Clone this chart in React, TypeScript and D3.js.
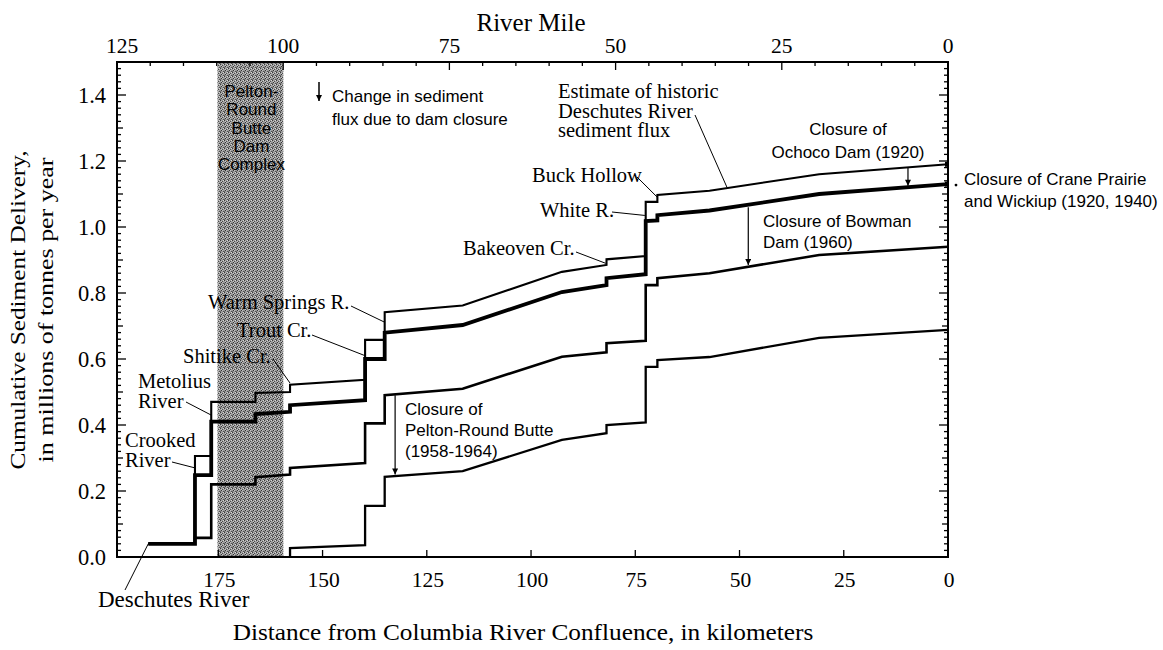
import React from 'react';
import * as d3 from 'd3';

const W = 1163;
const H = 650;
const M = { left: 117, right: 948, top: 62, bottom: 557 };

const kmDomain: [number, number] = [199.3, 0];
const mileDomain: [number, number] = [125, 0];
const yDomain: [number, number] = [0, 1.5];

const kmTicks = [175, 150, 125, 100, 75, 50, 25, 0];
const mileTicks = [125, 100, 75, 50, 25, 0];
const yTicks = [0, 0.2, 0.4, 0.6, 0.8, 1.0, 1.2, 1.4];

const damBandKm: [number, number] = [175.2, 159.4];

// [km from confluence, cumulative sediment (Mt/yr)]
const historic: [number, number][] = [
  [191.8, 0.04], [180.6, 0.04], [180.6, 0.306], [176.7, 0.306], [176.7, 0.47],
  [166.1, 0.47], [166.1, 0.497], [157.8, 0.5], [157.8, 0.522], [139.8, 0.537],
  [139.8, 0.658], [135.1, 0.658], [135.1, 0.742], [116.4, 0.762], [92.6, 0.864],
  [81.9, 0.885], [81.9, 0.902], [72.5, 0.912], [72.5, 1.076], [69.7, 1.076],
  [69.7, 1.097], [57.2, 1.11], [30.9, 1.16], [0, 1.19],
];
const upperDams: [number, number][] = [
  [191.8, 0.04], [180.6, 0.04], [180.6, 0.248], [176.7, 0.248], [176.7, 0.41],
  [166.1, 0.41], [166.1, 0.433], [157.8, 0.44], [157.8, 0.46], [139.8, 0.475],
  [139.8, 0.6], [135.1, 0.6], [135.1, 0.68], [116.4, 0.703], [92.6, 0.803],
  [81.9, 0.824], [81.9, 0.845], [72.5, 0.857], [72.5, 1.018], [69.7, 1.02],
  [69.7, 1.036], [57.2, 1.05], [30.9, 1.1], [0, 1.13],
];
const bowman: [number, number][] = [
  [191.8, 0.04], [180.6, 0.04], [180.6, 0.058], [176.7, 0.058], [176.7, 0.22],
  [166.1, 0.22], [166.1, 0.242], [157.8, 0.25], [157.8, 0.27], [139.8, 0.285],
  [139.8, 0.405], [135.1, 0.405], [135.1, 0.49], [116.4, 0.51], [92.6, 0.607],
  [81.9, 0.62], [81.9, 0.648], [72.5, 0.655], [72.5, 0.824], [69.7, 0.824],
  [69.7, 0.845], [57.2, 0.86], [30.9, 0.915], [0, 0.94],
];
const pelton: [number, number][] = [
  [157.8, 0], [157.8, 0.027], [139.8, 0.036], [139.8, 0.155], [135.1, 0.155],
  [135.1, 0.243], [116.4, 0.26], [92.6, 0.355], [81.9, 0.375], [81.9, 0.4],
  [72.5, 0.408], [72.5, 0.576], [69.7, 0.576], [69.7, 0.597], [57.2, 0.606],
  [30.9, 0.664], [0, 0.688],
];

// Labels: text lines, start position (px), pointer start (px) and target (data)
const tributaryLabels = [
  { lines: ['Warm Springs R.'], x: 208, y: 309, size: 20.5, from: [351, 306], to: [135.2, 0.712] },
  { lines: ['Trout Cr.'], x: 237, y: 337, size: 20.5, from: [312, 335], to: [139.8, 0.61] },
  { lines: ['Shitike Cr.'], x: 183, y: 363, size: 20.5, from: [273, 359], to: [157.8, 0.527] },
  { lines: ['Metolius', 'River'], x: 138, y: 388, size: 20.5, from: [186, 402], to: [176.7, 0.43] },
  { lines: ['Crooked', 'River'], x: 125, y: 447, size: 20.5, from: [172, 462], to: [180.6, 0.27] },
  { lines: ['Deschutes River'], x: 98, y: 607, size: 23, from: [125, 590], to: [191.8, 0.04] },
  { lines: ['Bakeoven Cr.'], x: 463, y: 255, size: 20.5, from: [576, 252], to: [82.1, 0.89] },
  { lines: ['White R.'], x: 540, y: 217, size: 20.5, from: [612, 212], to: [72.7, 1.035] },
  { lines: ['Buck Hollow'], x: 532, y: 182, size: 20.5, from: [637, 177], to: [69.7, 1.09] },
  { lines: ['Estimate of historic', 'Deschutes River', 'sediment flux'], x: 558, y: 98, size: 20.5, from: [695, 115], to: [53, 1.12] },
];

const damLabels = [
  { lines: ['Change in sediment', 'flux due to dam closure'], x: 332, y: 102, anchor: 'start', lh: 23 },
  { lines: ['Closure of', 'Ochoco Dam (1920)'], x: 848, y: 135, anchor: 'middle', lh: 23 },
  { lines: ['Closure of Crane Prairie', 'and Wickiup (1920, 1940)'], x: 964, y: 185, anchor: 'start', lh: 22 },
  { lines: ['Closure of Bowman', 'Dam (1960)'], x: 763, y: 227, anchor: 'start', lh: 21 },
  { lines: ['Closure of', 'Pelton-Round Butte', '(1958-1964)'], x: 405, y: 415, anchor: 'start', lh: 21 },
];

const bandLines = ['Pelton-', 'Round', 'Butte', 'Dam', 'Complex'];

// Dam-effect arrows: km, from value, to value
const damArrows: [number, number, number][] = [
  [132.6, 0.49, 0.25],
  [47.9, 1.06, 0.885],
  [9.6, 1.18, 1.125],
];

export default function App() {
  const x = d3.scaleLinear().domain(kmDomain).range([M.left, M.right]);
  const xm = d3.scaleLinear().domain(mileDomain).range([M.left, M.right]);
  const y = d3.scaleLinear().domain(yDomain).range([M.bottom, M.top]);
  const line = d3.line<[number, number]>().x(d => x(d[0])).y(d => y(d[1]));

  const serif = '"Liberation Serif", "Times New Roman", serif';
  const sans = '"Liberation Sans", Arial, sans-serif';

  const minorY = d3.range(0, 151, 2).map(i => i / 100);
  const minorMile = d3.range(0, 126, 5);

  const yTickLen = (v: number) => {
    const k = Math.round(v * 100);
    if (k % 20 === 0) return 9;
    if (k % 10 === 0) return 6;
    return 4;
  };

  return (
    <svg width={W} height={H} style={{ position: 'absolute', left: 0, top: 0, background: '#fff' }}>
      <defs>
        <pattern id="stip" width="4" height="4" patternUnits="userSpaceOnUse">
          <rect width="4" height="4" fill="#9c9c9c" />
          <rect x="0" y="0" width="1" height="1" fill="#3a3a3a" />
          <rect x="2" y="1" width="1" height="1" fill="#4a4a4a" />
          <rect x="1" y="2" width="1" height="1" fill="#333" />
          <rect x="3" y="3" width="1" height="1" fill="#505050" />
          <rect x="3" y="0" width="1" height="1" fill="#d8d8d8" />
          <rect x="1" y="1" width="1" height="1" fill="#c8c8c8" />
          <rect x="0" y="3" width="1" height="1" fill="#6a6a6a" />
          <rect x="2" y="2" width="1" height="1" fill="#c0c0c0" />
        </pattern>
        <marker id="ah" viewBox="0 0 10 10" refX="10" refY="5" markerWidth="7" markerHeight="6"
          markerUnits="userSpaceOnUse" orient="auto">
          <path d="M0,0 L10,5 L0,10 z" fill="#000" />
        </marker>
      </defs>

      {/* Dam complex band */}
      <rect x={x(damBandKm[0])} y={M.top} width={x(damBandKm[1]) - x(damBandKm[0])}
        height={M.bottom - M.top} fill="url(#stip)" />
      {bandLines.map((t, i) => (
        <text key={t} x={(x(damBandKm[0]) + x(damBandKm[1])) / 2 + 1} y={97 + i * 18.3}
          textAnchor="middle" fontFamily={sans} fontSize={17} fill="#000">{t}</text>
      ))}

      {/* Frame */}
      <rect x={M.left} y={M.top} width={M.right - M.left} height={M.bottom - M.top}
        fill="none" stroke="#000" strokeWidth={2} />

      {/* Left and right axis ticks */}
      {minorY.map(v => (
        <g key={'yt' + v}>
          <line x1={M.left} x2={M.left + yTickLen(v)} y1={y(v)} y2={y(v)} stroke="#000" strokeWidth={1.3} />
          <line x1={M.right} x2={M.right - yTickLen(v)} y1={y(v)} y2={y(v)} stroke="#000" strokeWidth={1.3} />
        </g>
      ))}
      {yTicks.map(v => (
        <text key={'yl' + v} x={106} y={y(v)} dy="0.35em" textAnchor="end"
          fontFamily={serif} fontSize={22.5} fill="#000">{v.toFixed(1)}</text>
      ))}

      {/* Top mile axis */}
      {minorMile.map(m => (
        <line key={'mt' + m} x1={xm(m)} x2={xm(m)} y1={M.top} y2={M.top + (m % 25 === 0 ? 8 : 4)}
          stroke="#000" strokeWidth={1.3} />
      ))}
      {mileTicks.map(m => (
        <text key={'ml' + m} x={xm(m) + (m === 125 ? 5 : 0)} y={53} textAnchor="middle"
          fontFamily={serif} fontSize={21.5} fill="#000">{m}</text>
      ))}
      <text x={531} y={31} textAnchor="middle" fontFamily={serif} fontSize={25} fill="#000">River Mile</text>

      {/* Bottom km axis */}
      {kmTicks.map(k => (
        <g key={'kt' + k}>
          <line x1={x(k)} x2={x(k)} y1={M.bottom} y2={M.bottom - 7} stroke="#000" strokeWidth={1.3} />
          <text x={x(k) + 1} y={587} textAnchor="middle" fontFamily={serif} fontSize={21.5} fill="#000">{k}</text>
        </g>
      ))}
      <text transform="translate(523,640) scale(1.1,1)" textAnchor="middle" fontFamily={serif} fontSize={23} fill="#000">
        Distance from Columbia River Confluence, in kilometers
      </text>

      {/* Y axis label */}
      <text transform="translate(25,310) rotate(-90) scale(1.15,1)" textAnchor="middle" fontFamily={serif} fontSize={22} fill="#000">
        Cumulative Sediment Delivery,
      </text>
      <text transform="translate(53,310) rotate(-90) scale(1.18,1)" textAnchor="middle" fontFamily={serif} fontSize={22} fill="#000">
        in millions of tonnes per year
      </text>

      {/* Series */}
      <path d={line(pelton) || ''} fill="none" stroke="#000" strokeWidth={2.3} strokeLinejoin="miter" />
      <path d={line(bowman) || ''} fill="none" stroke="#000" strokeWidth={2.6} strokeLinejoin="miter" />
      <path d={line(historic) || ''} fill="none" stroke="#000" strokeWidth={2.1} strokeLinejoin="miter" />
      <path d={line(upperDams) || ''} fill="none" stroke="#000" strokeWidth={3.8} strokeLinejoin="miter" />

      {/* End markers at confluence */}
      <rect x={x(0) - 3} y={y(historic[historic.length - 1][1]) - 2.5} width={4} height={5} fill="#000" />
      <rect x={x(0) - 3} y={y(upperDams[upperDams.length - 1][1]) - 2.5} width={4} height={5} fill="#000" />
      <circle cx={x(0) + 8} cy={y(upperDams[upperDams.length - 1][1]) + 1} r={1.4} fill="#000" />

      {/* Dam effect arrows */}
      {damArrows.map(([k, a, b]) => (
        <line key={'da' + k} x1={x(k)} x2={x(k)} y1={y(a)} y2={y(b)} stroke="#000" strokeWidth={1.2} markerEnd="url(#ah)" />
      ))}
      <line x1={319} x2={319} y1={82} y2={101} stroke="#000" strokeWidth={1.5} markerEnd="url(#ah)" />

      {/* Tributary labels */}
      {tributaryLabels.map(l => (
        <g key={l.lines[0]}>
          {l.lines.map((t, i) => (
            <text key={t + i} x={l.x} y={l.y + i * 19.5} fontFamily={serif} fontSize={l.size} fill="#000">{t}</text>
          ))}
          <line x1={l.from[0]} y1={l.from[1]} x2={x(l.to[0])} y2={y(l.to[1])} stroke="#000" strokeWidth={1} />
        </g>
      ))}

      {/* Dam labels */}
      {damLabels.map(l => (
        <g key={l.lines[0] + l.x}>
          {l.lines.map((t, i) => (
            <text key={t + i} x={l.x} y={l.y + i * l.lh} textAnchor={l.anchor as any}
              fontFamily={sans} fontSize={17} fill="#000">{t}</text>
          ))}
        </g>
      ))}
    </svg>
  );
}
